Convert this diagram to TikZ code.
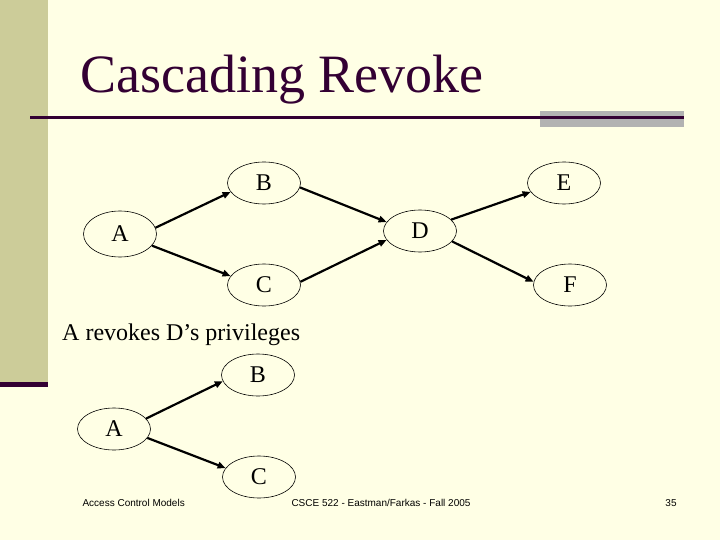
\documentclass[tikz,border=0pt]{standalone}
\usepackage{fontspec}
\setmainfont{Liberation Serif}
\newfontfamily\footfont{Liberation Sans}
\usetikzlibrary{shapes.geometric,arrows.meta}
\definecolor{slidebg}{RGB}{255,255,229}
\definecolor{slidetan}{RGB}{204,204,153}
\definecolor{slidedark}{RGB}{51,0,51}
\definecolor{slidegrey}{RGB}{178,178,178}

\begin{document}
\begin{tikzpicture}[x=1pt,y=-1pt,
    vertex/.style={draw, ellipse, line width=0.6pt, minimum width=73pt,
      minimum height=42pt, inner sep=0pt, font=\fontsize{24}{24}\selectfont},
    grant/.style={line width=2.2pt, -{Triangle[length=8pt,width=6.5pt]}},
    foot/.style={font=\footfont\fontsize{10}{10}\selectfont, anchor=base}]
    \useasboundingbox (0,0) rectangle (720,540);
    \fill[slidebg] (0,0) rectangle (720,540);
    \fill[slidetan] (0,0) rectangle (48,382);
    \fill[slidedark] (0,382) rectangle (48,387);
    \fill[slidegrey] (540,111) rectangle (684,127);
    \draw[slidedark, line width=3pt] (30,117.5) -- (684,117.5);
    \node[anchor=base west, text=slidedark, font=\fontsize{54}{54}\selectfont, inner sep=0pt]
      (title) at (80,93) {Cascading Revoke};
    
    % grants before the revoke
    \node[vertex, minimum height=46pt] (A) at (120,234) {A};
    \node[vertex] (B) at (264,183) {B};
    \node[vertex] (C) at (264,285) {C};
    \node[vertex] (D) at (420,231) {D};
    \node[vertex] (E) at (564,183) {E};
    \node[vertex] (F) at (570,285) {F};
    \draw[grant] (A.10) -- (B.195);
    \draw[grant] (A.-20) -- (C.165);
    \draw[grant] (B.-7) -- (D.165);
    \draw[grant] (C.5) -- (D.195);
    \draw[grant] (D.20) -- (E.195);
    \draw[grant] (D.-18) -- (F.175);
    
    \node[anchor=base west, font=\fontsize{24}{24}\selectfont, inner sep=0pt]
      (caption) at (62,340) {A revokes D’s privileges};
    
    % grants after the revoke
    \node[vertex] (A2) at (114,429) {A};
    \node[vertex] (B2) at (258,375) {B};
    \node[vertex] (C2) at (259,477) {C};
    \draw[grant] (A2.18) -- (B2.190);
    \draw[grant] (A2.-15) -- (C2.165);
    
    \node[foot, anchor=base west] (course) at (79,506) {Access Control Models};
    \node[foot] (term) at (381,506) {CSCE 522 - Eastman/Farkas - Fall 2005};
    \node[foot] (page) at (671,506) {35};
    
\end{tikzpicture}
\end{document}
